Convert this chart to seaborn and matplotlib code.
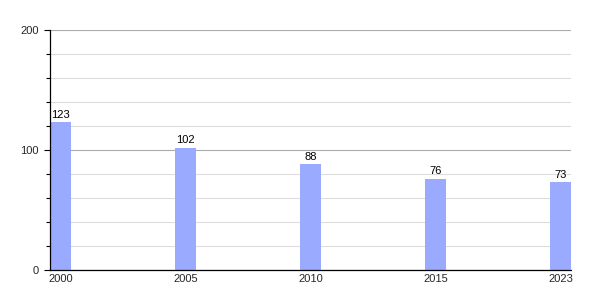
import matplotlib
matplotlib.use("Agg")
import matplotlib.pyplot as plt
import seaborn as sns
import pandas as pd
from matplotlib.ticker import MultipleLocator

years = ["2000", "2005", "2010", "2015", "2023"]
values = [123, 102, 88, 76, 73]

df = pd.DataFrame({"year": years, "value": values})

sns.set_style("white")
plt.rcParams["font.family"] = ["Liberation Sans", "DejaVu Sans"]

fig = plt.figure(figsize=(6, 3), dpi=100)
ax = fig.add_axes([50/600, 0.1, 521/600, 0.8])

sns.barplot(data=df, x="year", y="value", color="#99aaff", saturation=1,
            width=0.168, ax=ax, zorder=2, linewidth=0, edgecolor="none")

for c in ax.containers:
    ax.bar_label(c, fmt="%d", padding=2, fontsize=8, color="#000000")

ax.set_xlim(-0.084, 4.084)
ax.set_ylim(0, 200)
ax.yaxis.set_major_locator(MultipleLocator(100))
ax.yaxis.set_minor_locator(MultipleLocator(20))
ax.grid(which="major", axis="y", color="#aaaaaa", linewidth=0.8, zorder=0)
ax.grid(which="minor", axis="y", color="#dddddd", linewidth=0.8, zorder=0)
ax.set_axisbelow(True)

for s in ["top", "right"]:
    ax.spines[s].set_visible(False)
for s in ["left", "bottom"]:
    ax.spines[s].set_color("#000000")
    ax.spines[s].set_linewidth(0.9)
    ax.spines[s].set_zorder(5)

ax.tick_params(axis="y", which="major", length=4, width=0.8, color="#000000",
               labelsize=8, pad=4, left=True)
ax.tick_params(axis="y", which="minor", length=3, width=0.8, color="#000000", left=True)
ax.tick_params(axis="x", length=0, labelsize=8, pad=3)
ax.set_xlabel("")
ax.set_ylabel("")

fig.savefig("out.png", dpi=100)
